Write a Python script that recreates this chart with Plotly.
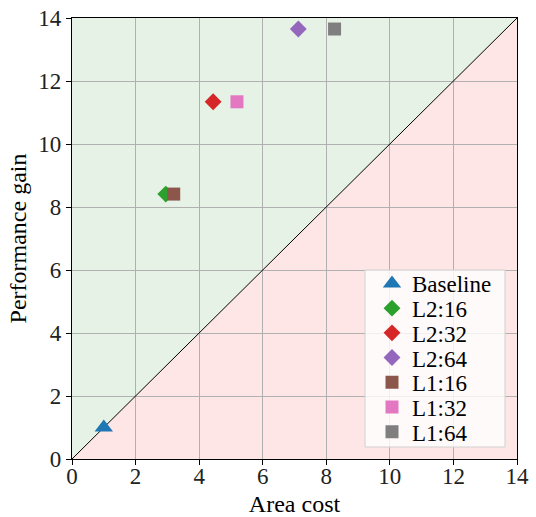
import plotly.graph_objects as go

# Design points: (area cost, performance gain)
labels = ["Baseline", "L2:16", "L2:32", "L2:64", "L1:16", "L1:32", "L1:64"]
area_cost = [1.0, 2.95, 4.44, 7.12, 3.2, 5.19, 8.26]
perf_gain = [1.0, 8.41, 11.34, 13.65, 8.41, 11.34, 13.65]
symbols = ["triangle-up", "diamond", "diamond", "diamond", "square", "square", "square"]
colors = ["#1f77b4", "#2ca02c", "#d62728", "#9467bd", "#8c564b", "#e377c2", "#7f7f7f"]
sizes = [16, 13, 13, 13, 13, 13, 13]

axis_max = 14
ticks = [0, 2, 4, 6, 8, 10, 12, 14]

W, H = 536, 517
M_L, M_R, M_T, M_B = 72, 19, 18, 58
plot_w = W - M_L - M_R
plot_h = H - M_T - M_B

font_family = "Liberation Serif"

fig = go.Figure()

# Shaded regions above (gain > cost) and below the break-even diagonal
m = axis_max
fig.add_shape(type="path", path=f"M 0 0 L 0 {m} L {m} {m} Z", xref="x", yref="y",
              fillcolor="#e6f2e6", line=dict(width=0), layer="below")
fig.add_shape(type="path", path=f"M 0 0 L {m} {m} L {m} 0 Z", xref="x", yref="y",
              fillcolor="#ffe6e6", line=dict(width=0), layer="below")

# Break-even line
fig.add_trace(go.Scatter(x=[0, axis_max], y=[0, axis_max], mode="lines",
                         line=dict(color="black", width=1), showlegend=False,
                         hoverinfo="skip"))

# One legend per entry so the rows can be packed tightly inside a single box
legend_left_px = 372
legend_row0_px = 283.5
legend_row_step = 24.7
legend_layouts = {}
for i, (lab, xv, yv, sym, col, sz) in enumerate(
        zip(labels, area_cost, perf_gain, symbols, colors, sizes)):
    lname = "legend" if i == 0 else f"legend{i + 1}"
    fig.add_trace(go.Scatter(x=[xv], y=[yv], mode="markers", name=lab,
                             legend=lname,
                             marker=dict(symbol=sym, color=col, size=sz,
                                         line=dict(width=0))))
    ypix = legend_row0_px + i * legend_row_step
    legend_layouts[lname] = dict(
        x=(legend_left_px - M_L) / plot_w,
        y=(H - M_B - ypix) / plot_h,
        xanchor="left", yanchor="middle",
        bgcolor="rgba(0,0,0,0)", borderwidth=0,
        font=dict(family=font_family, size=23, color="black"),
        itemsizing="trace",
    )

# Legend frame
box_l, box_r, box_t, box_b = 365, 505, 270, 447
fig.add_shape(type="rect", xref="paper", yref="paper",
              x0=(box_l - M_L) / plot_w, x1=(box_r - M_L) / plot_w,
              y0=(H - M_B - box_b) / plot_h, y1=(H - M_B - box_t) / plot_h,
              fillcolor="rgba(255,255,255,0.8)", line=dict(color="#d0d0d0", width=1),
              layer="above")

axis_common = dict(range=[0, axis_max], tickvals=ticks, showgrid=True,
                   gridcolor="#b0b0b0", gridwidth=1, showline=True,
                   linecolor="black", linewidth=1.2, mirror=True,
                   ticks="outside", ticklen=5, tickcolor="black",
                   zeroline=False, automargin=False,
                   tickfont=dict(family=font_family, size=23, color="#222"),
                   title_font=dict(family=font_family, size=24, color="black"))

fig.update_xaxes(title_text="Area cost", title_standoff=10, ticklabelstandoff=-9,
                 **axis_common)
fig.update_yaxes(title_text="Performance gain", title_standoff=4, **axis_common)

fig.update_layout(
    width=W, height=H,
    margin=dict(l=M_L, r=M_R, t=M_T, b=M_B),
    plot_bgcolor="white", paper_bgcolor="white",
    font=dict(family=font_family, color="black"),
    **legend_layouts,
)

fig.write_html("out.html")
